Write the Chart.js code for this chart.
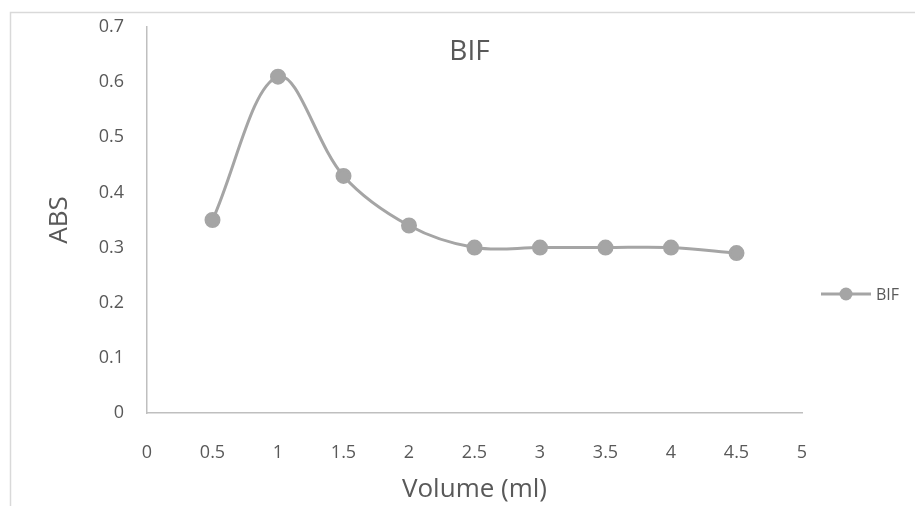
<!DOCTYPE html>
<html>
<head>
<meta charset="utf-8">
<script src="https://cdn.jsdelivr.net/npm/chart.js@4/dist/chart.umd.min.js"></script>
<style>
  html, body { margin: 0; padding: 0; background: #fff; }
  #wrap { width: 915px; height: 506px; position: relative; }
</style>
</head>
<body>
<div id="wrap"><canvas id="bifChart" width="915" height="506"></canvas></div>
<script>
var volumes = [0.5, 1, 1.5, 2, 2.5, 3, 3.5, 4, 4.5];
var absValues = [0.35, 0.61, 0.43, 0.34, 0.30, 0.30, 0.30, 0.30, 0.29];
var seriesName = 'BIF';
var chartTitle = 'BIF';
var xTitle = 'Volume (ml)';
var yTitle = 'ABS';

var FONT = '"Open Sans", sans-serif';
var GREY = '#a5a5a5';
var TEXT = '#595959';

function tickLabel(v) {
  return String(Math.round(v * 10) / 10);
}

// frame, title inside the plot and the legend on the right
var extras = {
  id: 'extras',
  beforeDraw: function (chart) {
    var ctx = chart.ctx;
    ctx.save();
    ctx.strokeStyle = '#d9d9d9';
    ctx.lineWidth = 1.5;
    ctx.strokeRect(10.5, 12.5, 1000, 1000);
    ctx.restore();
  },
  afterDraw: function (chart) {
    var ctx = chart.ctx;
    var area = chart.chartArea;
    ctx.save();
    ctx.fillStyle = TEXT;
    ctx.font = '28px ' + FONT;
    ctx.textAlign = 'center';
    ctx.textBaseline = 'middle';
    ctx.fillText(chartTitle, (area.left + area.right) / 2 - 5, 52);

    // legend
    var ly = 294;
    ctx.strokeStyle = GREY;
    ctx.lineWidth = 3;
    ctx.beginPath();
    ctx.moveTo(821, ly);
    ctx.lineTo(871, ly);
    ctx.stroke();
    ctx.fillStyle = GREY;
    ctx.beginPath();
    ctx.arc(846, ly, 6.5, 0, Math.PI * 2);
    ctx.fill();
    ctx.fillStyle = TEXT;
    ctx.font = '16px ' + FONT;
    ctx.textAlign = 'left';
    ctx.fillText(seriesName, 876, ly + 1);
    ctx.restore();
  }
};

var ctx = document.getElementById('bifChart').getContext('2d');
var points = volumes.map(function (v, i) { return { x: v, y: absValues[i] }; });

var chart = new Chart(ctx, {
  type: 'scatter',
  data: {
    datasets: [{
      label: seriesName,
      data: points,
      showLine: true,
      borderColor: GREY,
      backgroundColor: GREY,
      borderWidth: 3,
      pointRadius: 6.5,
      pointHoverRadius: 6.5,
      tension: 0.35
    }]
  },
  options: {
    responsive: false,
    animation: false,
    layout: { padding: { left: 0, top: 27, right: 113, bottom: 0 } },
    plugins: {
      legend: { display: false },
      title: { display: false },
      tooltip: { enabled: false }
    },
    scales: {
      x: {
        type: 'linear',
        min: 0,
        max: 5,
        ticks: { stepSize: 0.5, color: TEXT, font: { family: FONT, size: 18 }, padding: 29, callback: tickLabel },
        grid: { display: false, drawTicks: false },
        border: { display: true, color: '#bfbfbf', width: 1.5 },
        title: { display: true, text: xTitle, color: TEXT, font: { family: FONT, size: 26 }, padding: { top: 0, bottom: 1 } },
        afterFit: function (scale) {
          scale.height = 93;
          scale.paddingLeft = 0;
          scale.paddingRight = 0;
        }
      },
      y: {
        min: 0,
        max: 0.7,
        ticks: { stepSize: 0.1, color: TEXT, font: { family: FONT, size: 18 }, padding: 23, callback: tickLabel },
        grid: { display: false, drawTicks: false },
        border: { display: true, color: '#bfbfbf', width: 1.5 },
        title: { display: true, text: yTitle, color: TEXT, font: { family: FONT, size: 26 }, padding: { top: 44, bottom: 4 } },
        afterFit: function (scale) {
          scale.width = 147;
          scale.paddingTop = 0;
          scale.paddingBottom = 0;
        }
      }
    }
  },
  plugins: [extras]
});
</script>
</body>
</html>
